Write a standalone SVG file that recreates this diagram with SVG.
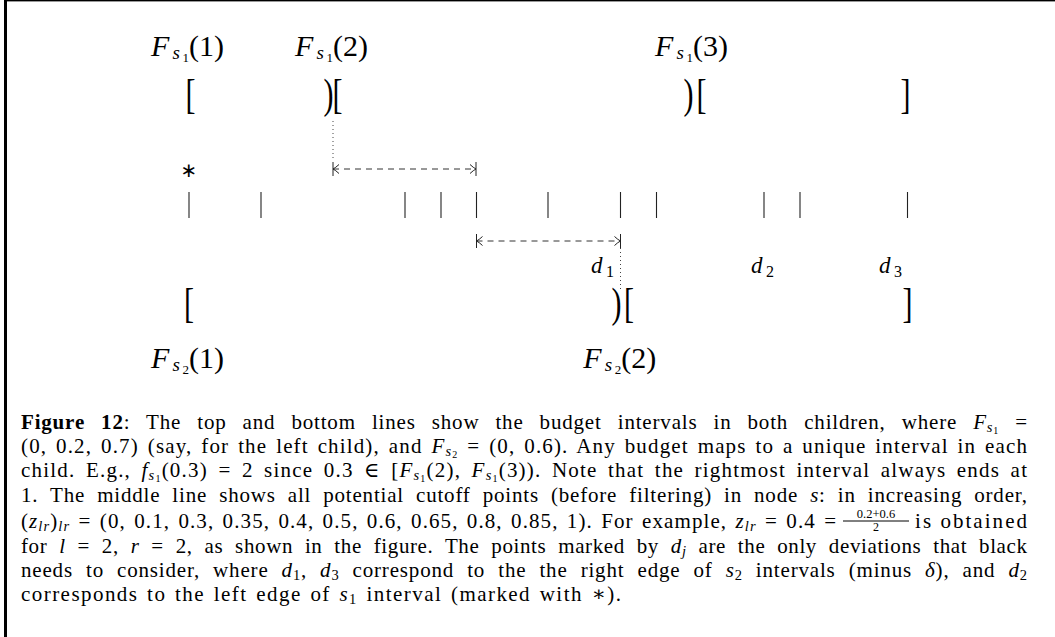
<svg xmlns="http://www.w3.org/2000/svg" width="1055" height="637" viewBox="0 0 1055 637">
<style>
text{font-family:"Liberation Serif","DejaVu Serif",serif;fill:#000}
.lab{font-size:30px}
.it{font-style:italic}
.br{font-size:30px}
.cap{font-size:21px}
.tick{stroke:#222;stroke-width:1.1}
.dash{stroke:#333;stroke-width:1;stroke-dasharray:6 5;fill:none}
.dot{stroke:#444;stroke-width:1;stroke-dasharray:1 3}
</style>
<defs>
<marker id="barto" markerUnits="userSpaceOnUse" markerWidth="20" markerHeight="20" viewBox="-10 -10 20 20" refX="0" refY="0" orient="auto-start-reverse">
<path d="M0,-7 V7 M-6,-4.5 Q-2.5,-1.2 0,0 Q-2.5,1.2 -6,4.5" fill="none" stroke="#222" stroke-width="1"/>
</marker>
</defs>
<rect x="0" y="0" width="1055" height="637" fill="#fff"/>
<rect x="4" y="0" width="1051" height="1.4" fill="#000"/>
<rect x="4" y="0" width="3" height="637" fill="#000"/>

<g id="top-labels">
<text class="lab" y="55.5"><tspan class="it" x="151">F</tspan><tspan class="it" x="172.5" dy="3" font-size="19">s</tspan><tspan x="182.5" dy="3" font-size="13">1</tspan><tspan x="189" dy="-6">(1)</tspan></text>
<text class="lab" y="55.5"><tspan class="it" x="295">F</tspan><tspan class="it" x="316.5" dy="3" font-size="19">s</tspan><tspan x="326.5" dy="3" font-size="13">1</tspan><tspan x="333" dy="-6">(2)</tspan></text>
<text class="lab" y="55.5"><tspan class="it" x="655">F</tspan><tspan class="it" x="676.5" dy="3" font-size="19">s</tspan><tspan x="686.5" dy="3" font-size="13">1</tspan><tspan x="693" dy="-6">(3)</tspan></text>
</g>

<g id="top-brackets" transform="translate(0,107.5) scale(1,1.43)">
<text class="br" x="185.4" y="0">[</text>
<text class="br" x="323.4" y="0">)</text>
<text class="br" x="332.4" y="0">[</text>
<text class="br" x="683.4" y="0">)</text>
<text class="br" x="696.4" y="0">[</text>
<text class="br" x="900.6" y="0">]</text>
</g>

<g id="star">
<text x="189" y="177" font-size="20" text-anchor="middle" style="font-family:'DejaVu Sans',sans-serif">∗</text>
</g>

<g id="cutoff-ticks">
<line class="tick" x1="189" y1="192" x2="189" y2="218"/>
<line class="tick" x1="261" y1="192" x2="261" y2="218"/>
<line class="tick" x1="405" y1="192" x2="405" y2="218"/>
<line class="tick" x1="441" y1="192" x2="441" y2="218"/>
<line class="tick" x1="476.5" y1="192" x2="476.5" y2="218"/>
<line class="tick" x1="548" y1="192" x2="548" y2="218"/>
<line class="tick" x1="620.5" y1="192" x2="620.5" y2="218"/>
<line class="tick" x1="656.5" y1="192" x2="656.5" y2="218"/>
<line class="tick" x1="764" y1="192" x2="764" y2="218"/>
<line class="tick" x1="800" y1="192" x2="800" y2="218"/>
<line class="tick" x1="907.5" y1="192" x2="907.5" y2="218"/>
</g>

<g id="connectors">
<line class="dot" x1="333" y1="121" x2="333" y2="161"/>
<path class="dash" d="M333,169 H476" marker-start="url(#barto)" marker-end="url(#barto)"/>
<path class="dash" d="M476.5,241 H620.5" marker-start="url(#barto)" marker-end="url(#barto)"/>
<line class="dot" x1="620.5" y1="248" x2="620.5" y2="289"/>
</g>

<g id="d-labels">
<text font-size="23" y="273"><tspan class="it" x="591">d</tspan><tspan x="606" dy="4" font-size="16">1</tspan></text>
<text font-size="23" y="273"><tspan class="it" x="751">d</tspan><tspan x="766" dy="4" font-size="16">2</tspan></text>
<text font-size="23" y="273"><tspan class="it" x="879">d</tspan><tspan x="894" dy="4" font-size="16">3</tspan></text>
</g>

<g id="bottom-brackets" transform="translate(0,316.5) scale(1,1.43)">
<text class="br" x="184.1" y="0">[</text>
<text class="br" x="611.4" y="0">)</text>
<text class="br" x="624.1" y="0">[</text>
<text class="br" x="902.6" y="0">]</text>
</g>

<g id="bottom-labels">
<text class="lab" y="368"><tspan class="it" x="151">F</tspan><tspan class="it" x="172.5" dy="3" font-size="19">s</tspan><tspan x="182.5" dy="3" font-size="13">2</tspan><tspan x="189" dy="-6">(1)</tspan></text>
<text class="lab" y="368"><tspan class="it" x="583.3">F</tspan><tspan class="it" x="604.8" dy="3" font-size="19">s</tspan><tspan x="614.8" dy="3" font-size="13">2</tspan><tspan x="621.3" dy="-6">(2)</tspan></text>
</g>

<g id="caption" class="cap">
<text class="cap" x="21" y="429" textLength="1006" lengthAdjust="spacing" word-spacing="10"><tspan font-weight="bold">Figure 12</tspan>: The top and bottom lines show the budget intervals in both children, where <tspan class="it">F</tspan><tspan class="it" font-size="14.5" dy="3">s</tspan><tspan font-size="10" dy="1.5">1</tspan><tspan dy="-4.5"> =</tspan></text>
<text class="cap" x="21" y="453" textLength="1006" lengthAdjust="spacing" word-spacing="2.5">(0, 0.2, 0.7) (say, for the left child), and <tspan class="it">F</tspan><tspan class="it" font-size="14.5" dy="3">s</tspan><tspan font-size="10" dy="1.5">2</tspan><tspan dy="-4.5"> = (0, 0.6). Any budget maps to a unique interval in each</tspan></text>
<text class="cap" x="21" y="477" textLength="1006" lengthAdjust="spacing" word-spacing="4">child. E.g., <tspan class="it">f</tspan><tspan class="it" font-size="14.5" dy="3">s</tspan><tspan font-size="10" dy="1.5">1</tspan><tspan dy="-4.5">(0.3) = 2 since 0.3 ∈ [</tspan><tspan class="it">F</tspan><tspan class="it" font-size="14.5" dy="3">s</tspan><tspan font-size="10" dy="1.5">1</tspan><tspan dy="-4.5">(2), </tspan><tspan class="it">F</tspan><tspan class="it" font-size="14.5" dy="3">s</tspan><tspan font-size="10" dy="1.5">1</tspan><tspan dy="-4.5">(3)). Note that the rightmost interval always ends at</tspan></text>
<text class="cap" x="21" y="502" textLength="1006" lengthAdjust="spacing" word-spacing="6">1. The middle line shows all potential cutoff points (before filtering) in node <tspan class="it">s</tspan>: in increasing order,</text>
<text class="cap" x="21" y="528" textLength="815" lengthAdjust="spacing" word-spacing="2">(<tspan class="it">z</tspan><tspan class="it" font-size="14.5" dy="3">lr</tspan><tspan dy="-3">)</tspan><tspan class="it" font-size="14.5" dy="3">lr</tspan><tspan dy="-3"> = (0, 0.1, 0.3, 0.35, 0.4, 0.5, 0.6, 0.65, 0.8, 0.85, 1). For example, </tspan><tspan class="it">z</tspan><tspan class="it" font-size="14.5" dy="3">lr</tspan><tspan dy="-3"> = 0.4 =</tspan></text>
<text x="876" y="517.5" font-size="12.5" text-anchor="middle">0.2+0.6</text>
<line x1="843" y1="521" x2="909" y2="521" stroke="#000" stroke-width="1"/>
<text x="876" y="531" font-size="12" text-anchor="middle">2</text>
<text class="cap" x="915" y="528" textLength="112" lengthAdjust="spacing">is obtained</text>
<text class="cap" x="21" y="553" textLength="1006" lengthAdjust="spacing" word-spacing="6">for <tspan class="it">l</tspan> = 2, <tspan class="it">r</tspan> = 2, as shown in the figure. The points marked by <tspan class="it">d</tspan><tspan class="it" font-size="14.5" dy="3">j</tspan><tspan dy="-3"> are the only deviations that black</tspan></text>
<text class="cap" x="21" y="577" textLength="1006" lengthAdjust="spacing" word-spacing="7">needs to consider, where <tspan class="it">d</tspan><tspan font-size="14.5" dy="3">1</tspan><tspan dy="-3">, </tspan><tspan class="it">d</tspan><tspan font-size="14.5" dy="3">3</tspan><tspan dy="-3"> correspond to the the right edge of </tspan><tspan class="it">s</tspan><tspan font-size="14.5" dy="3">2</tspan><tspan dy="-3"> intervals (minus </tspan><tspan class="it">δ</tspan>), and <tspan class="it">d</tspan><tspan font-size="14.5" dy="3">2</tspan></text>
<text class="cap" x="21" y="601" textLength="600" lengthAdjust="spacing" word-spacing="2">corresponds to the left edge of <tspan class="it">s</tspan><tspan font-size="14.5" dy="3">1</tspan><tspan dy="-3"> interval (marked with ∗).</tspan></text>
</g>
</svg>
